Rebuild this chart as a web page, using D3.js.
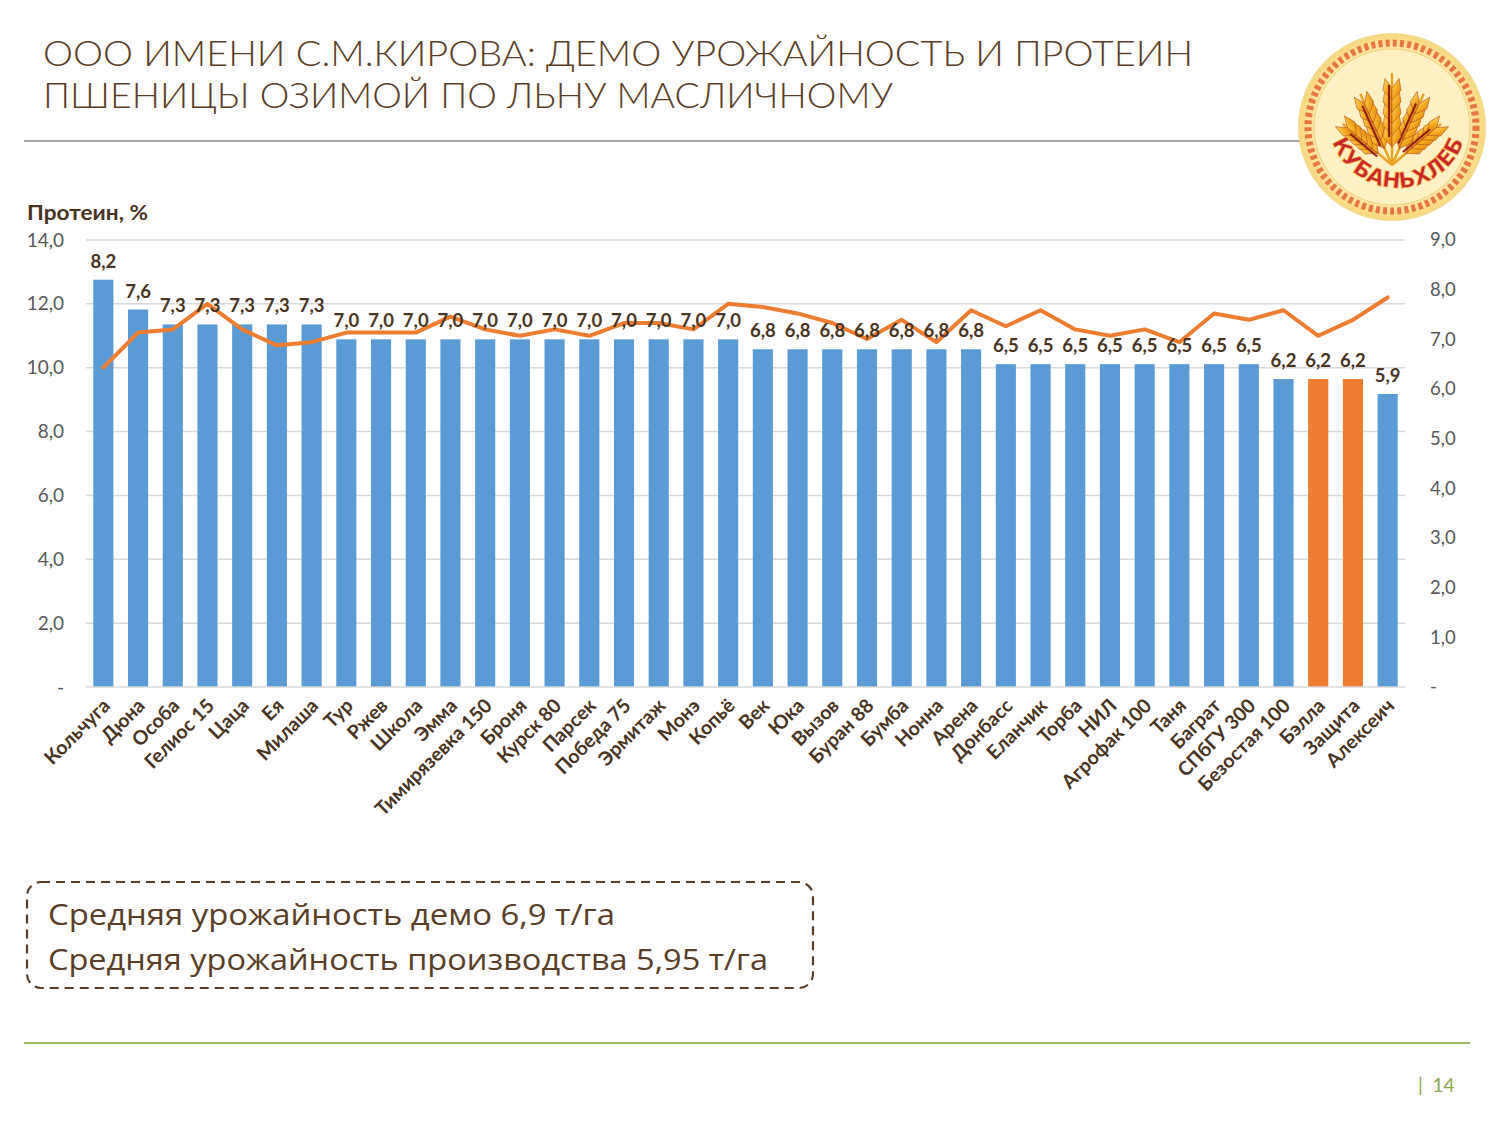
<!DOCTYPE html>
<html><head><meta charset="utf-8">
<script src="https://cdn.jsdelivr.net/npm/d3@7"></script>
<style>
html,body{margin:0;padding:0;background:#fff;}
svg{display:block;}
</style></head>
<body>
<svg id="chart" width="1500" height="1125"></svg>
<script>
const categories = ["Кольчуга","Дюна","Особа","Гелиос 15","Цаца","Ея","Милаша","Тур","Ржев","Школа","Эмма","Тимирязевка 150","Броня","Курск 80","Парсек","Победа 75","Эрмитаж","Монэ","Копьё","Век","Юка","Вызов","Буран 88","Бумба","Нонна","Арена","Донбасс","Еланчик","Торба","НИЛ","Агрофак 100","Таня","Баграт","СПбГУ 300","Безостая 100","Бэлла","Защита","Алексеич"];
const yieldValues = [8.2,7.6,7.3,7.3,7.3,7.3,7.3,7.0,7.0,7.0,7.0,7.0,7.0,7.0,7.0,7.0,7.0,7.0,7.0,6.8,6.8,6.8,6.8,6.8,6.8,6.8,6.5,6.5,6.5,6.5,6.5,6.5,6.5,6.5,6.2,6.2,6.2,5.9];
const proteinValues = [10.0,11.1,11.2,12.0,11.2,10.7,10.8,11.1,11.1,11.1,11.6,11.2,11.0,11.2,11.0,11.4,11.4,11.2,12.0,11.9,11.7,11.4,10.9,11.5,10.8,11.8,11.3,11.8,11.2,11.0,11.2,10.8,11.7,11.5,11.8,11.0,11.5,12.2];
const highlighted = ["Бэлла","Защита"];
const leftTicks = [0,2,4,6,8,10,12,14];
const rightTicks = [0,1,2,3,4,5,6,7,8,9];
const titleLines = ["ООО ИМЕНИ С.М.КИРОВА: ДЕМО УРОЖАЙНОСТЬ И ПРОТЕИН","ПШЕНИЦЫ ОЗИМОЙ ПО ЛЬНУ МАСЛИЧНОМУ"];
const noteLines = ["Средняя урожайность демо 6,9 т/га","Средняя урожайность производства 5,95 т/га"];
const leftAxisTitle = "Протеин, %";
const pageNumber = "|  14";
const logoText = "КУБАНЬХЛЕБ";

const svg = d3.select("#chart");
const BROWN = "#5a3e28";
const LBL = "#4a3423";
const fmt = v => v === 0 ? "-" : d3.format(".1f")(v).replace(".", ",");

// Title
const tl = [{w:1150,y:66},{w:850,y:108}];
titleLines.forEach((t,i)=>{
  svg.append("text").attr("x",43).attr("y",tl[i].y)
    .attr("font-family","Lato, 'Open Sans', sans-serif").attr("font-weight",300)
    .attr("font-size",34.5).attr("fill",BROWN)
    .attr("textLength",tl[i].w).attr("lengthAdjust","spacingAndGlyphs").text(t);
});
svg.append("line").attr("x1",24).attr("x2",1300).attr("y1",141).attr("y2",141)
  .attr("stroke","#a6a6a6").attr("stroke-width",2);

// Logo
const defs = svg.append("defs");
const rg = defs.append("radialGradient").attr("id","lg");
rg.append("stop").attr("offset","0%").attr("stop-color","#fdf1c6");
rg.append("stop").attr("offset","85%").attr("stop-color","#fbe6a6");
rg.append("stop").attr("offset","100%").attr("stop-color","#f6d77a");
const gold = defs.append("linearGradient").attr("id","gold").attr("x1","0").attr("x2","1").attr("y1","0").attr("y2","1");
gold.append("stop").attr("offset","0%").attr("stop-color","#ffe27a");
gold.append("stop").attr("offset","50%").attr("stop-color","#f2a91c");
gold.append("stop").attr("offset","100%").attr("stop-color","#d9771a");
const logo = svg.append("g").attr("transform","translate(1392,127)");
logo.append("circle").attr("r",93).attr("fill","url(#lg)").attr("stroke","#f3d98a").attr("stroke-width",2);
logo.append("circle").attr("r",84).attr("fill","none").attr("stroke","#e25b2a").attr("stroke-width",7).attr("stroke-dasharray","4 3.2").attr("opacity",0.8);
logo.append("circle").attr("r",78).attr("fill","#fdf0c4").attr("stroke","#f2cf73").attr("stroke-width",1);
const ear = (angle, len) => {
  const g = logo.append("g").attr("transform",`translate(0,38) rotate(${angle})`);
  g.append("line").attr("x1",0).attr("y1",0).attr("x2",0).attr("y2",-len-22).attr("stroke","#e8a426").attr("stroke-width",2.5);
  for(let k=0;k<5;k++){
    const y = -18 - k*(len/6);
    g.append("path").attr("d",`M0,${y} L-9,${y-10} L-7,${y-22} L0,${y-12} Z`).attr("fill","url(#gold)").attr("stroke","#b5541b").attr("stroke-width",0.6);
    g.append("path").attr("d",`M0,${y} L9,${y-10} L7,${y-22} L0,${y-12} Z`).attr("fill","url(#gold)").attr("stroke","#b5541b").attr("stroke-width",0.6);
  }
  g.append("line").attr("x1",-3).attr("y1",-len*0.4).attr("x2",-3).attr("y2",-len-10).attr("stroke","#8b1f1a").attr("stroke-width",2);
};
ear(-50,42); ear(50,42); ear(-24,56); ear(24,56); ear(0,70);
const lt = svg.append("g").attr("transform","translate(1398,118)");
lt.append("path").attr("id","logoArc").attr("d","M-70,0 A70,70 0 0,0 70,0").attr("fill","none");
lt.append("text").attr("font-family","'DejaVu Sans', sans-serif").attr("font-weight",700)
  .attr("font-size",22).attr("fill","#c8262c").attr("stroke","#f5c24a").attr("stroke-width",0.7)
  .append("textPath").attr("href","#logoArc").attr("startOffset","50%").attr("text-anchor","middle").text(logoText);

// Chart
const x0 = 86, x1 = 1405, yTop = 240, yBot = 687;
const x = d3.scaleBand().domain(categories).range([x0,x1]).paddingInner(0.42).paddingOuter(0.21);
const yL = d3.scaleLinear().domain([0,14]).range([yBot,yTop]);
const yR = d3.scaleLinear().domain([0,9]).range([yBot,yTop]);

svg.append("g").selectAll("line").data(leftTicks.filter(d=>d>0)).join("line")
  .attr("x1",x0).attr("x2",x1).attr("y1",d=>yL(d)).attr("y2",d=>yL(d))
  .attr("stroke","#d9d9d9").attr("stroke-width",1.5);

const axL = svg.append("g").attr("transform",`translate(${x0},0)`)
  .call(d3.axisLeft(yL).tickValues(leftTicks).tickFormat(fmt).tickSize(0).tickPadding(22));
axL.select(".domain").remove();
axL.selectAll("text").attr("font-family","Lato, 'Open Sans', sans-serif").attr("font-size",19).attr("fill","#595959");

const axR = svg.append("g").attr("transform",`translate(${x1},0)`)
  .call(d3.axisRight(yR).tickValues(rightTicks).tickFormat(fmt).tickSize(0).tickPadding(25));
axR.select(".domain").remove();
axR.selectAll("text").attr("font-family","Lato, 'Open Sans', sans-serif").attr("font-size",18.5).attr("fill","#595959");

svg.append("text").attr("x",27).attr("y",220).attr("font-family","Lato, 'Open Sans', sans-serif")
  .attr("font-weight",700).attr("font-size",21).attr("fill",LBL)
  .attr("textLength",121).attr("lengthAdjust","spacingAndGlyphs").text(leftAxisTitle);

svg.append("g").selectAll("rect").data(categories).join("rect")
  .attr("x",d=>x(d)).attr("width",x.bandwidth())
  .attr("y",(d,i)=>yR(yieldValues[i])).attr("height",(d,i)=>yBot-yR(yieldValues[i]))
  .attr("fill",d=>highlighted.includes(d)?"#ed7d31":"#5b9bd5");

svg.append("line").attr("x1",x0).attr("x2",x1).attr("y1",yBot).attr("y2",yBot)
  .attr("stroke","#d9d9d9").attr("stroke-width",1.5);

const line = d3.line().x((d,i)=>x(categories[i])+x.bandwidth()/2).y(d=>yL(d));
svg.append("path").datum(proteinValues).attr("d",line).attr("fill","none")
  .attr("stroke","#ed7d31").attr("stroke-width",4).attr("stroke-linejoin","round").attr("stroke-linecap","round");

svg.append("g").selectAll("text").data(categories).join("text")
  .attr("x",d=>x(d)+x.bandwidth()/2).attr("y",(d,i)=>yR(yieldValues[i])-12)
  .attr("text-anchor","middle").attr("font-family","Lato, 'Open Sans', sans-serif")
  .attr("font-weight",700).attr("font-size",18.5).attr("fill",LBL)
  .text((d,i)=>fmt(yieldValues[i]));

svg.append("g").selectAll("text").data(categories).join("text")
  .attr("transform",d=>`translate(${x(d)+x.bandwidth()/2+8},${yBot+20}) rotate(-45)`)
  .attr("text-anchor","end").attr("font-family","Lato, 'Open Sans', sans-serif")
  .attr("font-weight",700).attr("font-size",19.5).attr("fill",LBL).text(d=>d);

svg.append("rect").attr("x",27).attr("y",882).attr("width",786).attr("height",106).attr("rx",14)
  .attr("fill","none").attr("stroke",BROWN).attr("stroke-width",2.2).attr("stroke-dasharray","9 6");
const nl = [{y:925,w:567},{y:970,w:720}];
noteLines.forEach((t,i)=>{
  svg.append("text").attr("x",48).attr("y",nl[i].y).attr("font-family","'Open Sans', Lato, sans-serif")
    .attr("font-size",30).attr("fill",BROWN).attr("textLength",nl[i].w).attr("lengthAdjust","spacingAndGlyphs").text(t);
});

svg.append("line").attr("x1",24).attr("x2",1470).attr("y1",1043).attr("y2",1043)
  .attr("stroke","#9bbb59").attr("stroke-width",2);
svg.append("text").attr("x",1418).attr("y",1092).attr("font-family","Lato, sans-serif")
  .attr("font-size",19).attr("fill","#8aa64f").attr("xml:space","preserve").text(pageNumber);
</script>
</body></html>
